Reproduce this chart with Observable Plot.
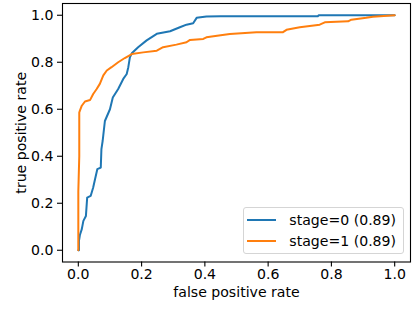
<!DOCTYPE html>
<html><head><meta charset="utf-8">
<script src="https://cdn.jsdelivr.net/npm/d3@7"></script>
<script src="https://cdn.jsdelivr.net/npm/@observablehq/plot@0.6"></script>
<style>
body{margin:0;background:#fff;}
#wrap{position:relative;width:415px;height:311px;font-family:"DejaVu Sans",sans-serif;color:#000;}
.legend{position:absolute;left:242.5px;top:206.5px;width:161px;height:47px;border:1px solid #d5d5d5;border-radius:3px;background:rgba(255,255,255,0.8);font-size:14.1px;box-sizing:border-box;}
.row{position:absolute;left:0;height:18px;}
.swatch{position:absolute;left:3.8px;width:29px;height:2px;}
.lbl{position:absolute;left:45.8px;white-space:nowrap;line-height:18px;top:-9px;}
</style></head>
<body><div id="wrap"></div>
<script>
const seriesLabels = ["stage=0 (0.89)", "stage=1 (0.89)"];
const seriesColors = ["#1f77b4", "#ff7f0e"];
const xTicks = [0, 0.2, 0.4, 0.6, 0.8, 1.0];
const yTicks = [0, 0.2, 0.4, 0.6, 0.8, 1.0];

const stage0Fpr = [0,0.002,0.002,0.005,0.011,0.016,0.024,0.028,0.039,0.047,0.053,0.060,0.071,0.073,0.077,0.079,0.084,0.100,0.109,0.126,0.142,0.153,0.158,0.163,0.169,0.189,0.216,0.248,0.290,0.321,0.342,0.363,0.374,0.405,0.450,0.757,0.760,1.0];
const stage0Tpr = [0,0,0.040,0.065,0.090,0.125,0.146,0.224,0.231,0.267,0.303,0.345,0.352,0.430,0.466,0.490,0.550,0.600,0.650,0.686,0.729,0.750,0.779,0.821,0.838,0.864,0.893,0.921,0.932,0.949,0.960,0.966,0.989,0.995,0.996,0.996,1.0,1.0];

const stage1Fpr = [0,0,0.003,0.003,0.005,0.011,0.021,0.037,0.047,0.058,0.068,0.079,0.090,0.105,0.126,0.147,0.169,0.205,0.248,0.268,0.310,0.342,0.353,0.395,0.405,0.450,0.479,0.563,0.647,0.658,0.700,0.763,0.779,0.853,0.863,0.910,0.931,1.0];
const stage1Tpr = [0,0.250,0.400,0.586,0.594,0.615,0.633,0.639,0.665,0.686,0.708,0.744,0.765,0.779,0.800,0.818,0.835,0.842,0.849,0.864,0.875,0.885,0.895,0.899,0.906,0.915,0.920,0.928,0.928,0.938,0.949,0.960,0.970,0.974,0.981,0.989,0.994,1.0];

const data = [
  ...stage0Fpr.map((f,i)=>({fpr:f,tpr:stage0Tpr[i],series:seriesLabels[0]})),
  ...stage1Fpr.map((f,i)=>({fpr:f,tpr:stage1Tpr[i],series:seriesLabels[1]}))
];

const chart = Plot.plot({
  width:415, height:311,
  marginLeft:62, marginRight:5, marginTop:3, marginBottom:49.5,
  style:{fontFamily:"DejaVu Sans", fontSize:"14.1px", color:"black", background:"white"},
  x:{domain:[-0.05,1.05]},
  y:{domain:[-0.05,1.05]},
  color:{domain:seriesLabels, range:seriesColors},
  marks:[
    Plot.line(data,{x:"fpr", y:"tpr", stroke:"series", z:"series", strokeWidth:2}),
    Plot.frame({stroke:"black", strokeWidth:1.1}),
    Plot.axisX({ticks:xTicks, tickFormat:d3.format(".1f"), tickSize:5, tickPadding:2, strokeWidth:1.1,
      label:"false positive rate", labelAnchor:"center", labelArrow:"none", labelOffset:35}),
    Plot.axisY({ticks:yTicks, tickFormat:d3.format(".1f"), tickSize:5, tickPadding:4, strokeWidth:1.1,
      label:"true positive rate", labelAnchor:"center", labelArrow:"none", labelOffset:47})
  ]
});
const wrap = document.getElementById("wrap");
wrap.appendChild(chart);

const leg = document.createElement("div");
leg.className = "legend";
seriesLabels.forEach((s,i)=>{
  const row = document.createElement("div");
  row.className = "row";
  row.style.top = (12.5 + i*20.5) + "px";
  const sw = document.createElement("div");
  sw.className = "swatch"; sw.style.background = seriesColors[i]; sw.style.top = "-1px";
  const t = document.createElement("div");
  t.className = "lbl"; t.textContent = s;
  row.appendChild(sw); row.appendChild(t);
  leg.appendChild(row);
});
wrap.appendChild(leg);
</script>
</body></html>
